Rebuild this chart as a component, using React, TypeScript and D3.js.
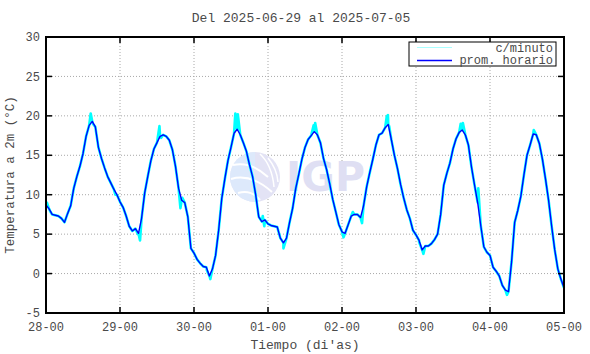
import React from 'react';
import * as d3 from 'd3';

// hourly mean temperature (°C), one value per hour from 28-00 to 05-00
const hourly: number[] = [
  8.7, 8.2, 7.5, 7.4, 7.3, 7.0, 6.5, 7.6, 8.6, 10.8, 12.3, 13.6, 15.2, 17.4, 18.8, 19.3, 18.6, 16.0, 14.6, 13.4, 12.3, 11.5, 10.7, 10.0,
  9.1, 8.4, 7.3, 6.0, 5.4, 5.7, 5.1, 7.0, 10.2, 12.3, 14.3, 15.8, 16.6, 17.4, 17.6, 17.4, 16.9, 15.7, 13.6, 10.8, 9.3, 9.0, 7.2, 3.2,
  2.6, 1.8, 1.3, 0.9, 0.8, -0.3, 0.6, 2.3, 5.5, 9.5, 12.0, 14.3, 16.0, 17.8, 18.3, 17.6, 16.6, 15.5, 13.8, 12.3, 10.0, 7.2, 6.6, 6.8,
  6.3, 6.1, 6.0, 5.9, 4.5, 3.9, 4.5, 6.5, 8.3, 10.8, 12.6, 14.5, 16.0, 17.0, 17.5, 18.0, 17.6, 16.6, 14.6, 13.2, 11.4, 9.4, 7.8, 6.2,
  5.3, 5.1, 6.2, 7.3, 7.5, 7.5, 7.1, 8.6, 11.0, 12.8, 14.5, 16.3, 17.6, 17.8, 18.5, 18.9, 17.0, 15.0, 13.3, 11.3, 9.6, 8.1, 7.0, 5.5,
  4.9, 4.2, 3.0, 3.5, 3.5, 3.8, 4.3, 5.0, 7.5, 11.2, 12.7, 14.0, 15.8, 17.1, 17.9, 18.2, 17.6, 16.3, 13.5, 11.2, 9.0, 6.1, 3.4, 2.7,
  2.3, 0.8, 0.3, -0.3, -1.5, -2.1, -2.3, 1.5, 6.5, 8.0, 9.8, 12.5, 15.0, 16.3, 17.7, 17.6, 16.5, 14.5, 12.0, 9.3, 6.0, 3.0, 0.6, -0.7,
  -1.8,
];

// per-minute readings that stand out from the hourly mean: [hour, °C]
const minuteSpikes: [number, number][] = [
  [0.3, 9.0], [1.5, 7.8], [14.5, 20.3], [15.2, 19.0], [22.5, 10.0], [29.8, 5.0], [30.5, 4.2],
  [36.8, 18.7], [37.3, 17.2], [43.6, 8.3], [44.2, 9.6], [52.2, 0.4], [53.3, -0.7],
  [61.4, 20.3], [61.8, 18.7], [62.2, 20.2], [70.3, 7.3], [70.8, 6.0], [77.0, 3.2],
  [86.8, 18.8], [87.3, 19.1], [94.9, 6.3], [96.5, 4.6], [99.5, 7.8], [102.5, 6.4],
  [110.5, 19.9], [110.9, 20.1], [111.3, 18.7], [121.0, 4.0], [122.4, 2.5],
  [134.5, 19.0], [135.2, 19.1], [140.2, 10.8], [149.5, -2.7], [158.2, 18.2],
];

const xTickLabels = ['28-00', '29-00', '30-00', '01-00', '02-00', '03-00', '04-00', '05-00'];
const yTicks = [-5, 0, 5, 10, 15, 20, 25, 30];

const W = 590;
const H = 354;
const margin = { top: 37, right: 26, bottom: 41, left: 46 };
const font = '"Liberation Mono", "DejaVu Sans Mono", monospace';
const textColor = '#4a4a4a';

export default function App() {
  const iw = W - margin.left - margin.right;
  const ih = H - margin.top - margin.bottom;

  const x = d3.scaleLinear().domain([0, 168]).range([0, iw]);
  const y = d3.scaleLinear().domain([-5, 30]).range([ih, 0]);

  const hourPts: [number, number][] = hourly.map((v, i) => [i, v]);
  const minutePts = [...hourPts, ...minuteSpikes].sort((a, b) => a[0] - b[0]);

  const line = d3.line<[number, number]>()
    .x((d) => x(d[0]))
    .y((d) => y(d[1]));

  const xTicks = xTickLabels.map((_, i) => i * 24);

  return (
    <div style={{ position: 'fixed', left: 0, top: 0 }}>
      <svg width={W} height={H} style={{ display: 'block', background: '#fff' }}>
        <text x={301} y={22} textAnchor="middle" fontFamily={font} fontSize={13} fill={textColor}>
          Del 2025-06-29 al 2025-07-05
        </text>

        <g transform={`translate(${margin.left},${margin.top})`}>
          {/* grid */}
          {yTicks.slice(1, -1).map((t) => (
            <line key={'gy' + t} x1={0} x2={iw} y1={y(t)} y2={y(t)} stroke="#a8a8a8" strokeDasharray="1,2" />
          ))}
          {xTicks.slice(1, -1).map((t) => (
            <line key={'gx' + t} x1={x(t)} x2={x(t)} y1={0} y2={ih} stroke="#a8a8a8" strokeDasharray="1,2" />
          ))}

          {/* IGP watermark */}
          <g>
            <circle cx={209} cy={140} r={25} fill="#e3e3f5" />
            <path d="M 184 140 A 25 25 0 0 1 209 115 L 209 165 A 25 25 0 0 1 184 140 Z" fill="#dde9fb" />
            <path d="M 187 128 Q 205 124 222 140" stroke="#fff" strokeWidth={2} fill="none" />
            <path d="M 185 142 Q 205 136 226 155" stroke="#fff" strokeWidth={2} fill="none" />
            <path d="M 192 156 Q 205 152 214 163" stroke="#fff" strokeWidth={2} fill="none" />
            <path d="M 214 117 Q 226 128 228 150" stroke="#fff" strokeWidth={1.5} fill="none" />
            <path d="M 222 121 Q 231 132 232 145" stroke="#fff" strokeWidth={1.5} fill="none" />
            <text x={240} y={154} fontFamily="'DejaVu Sans', sans-serif" fontWeight="bold" fontSize={41} fill="#dfdff3">
              IGP
            </text>
          </g>

          {/* data */}
          <path d={line(minutePts) ?? ''} fill="none" stroke="#00ffff" strokeWidth={2.6} strokeLinejoin="round" />
          <path d={line(hourPts) ?? ''} fill="none" stroke="#0000ff" strokeWidth={1.4} strokeLinejoin="round" />

          {/* frame */}
          <rect x={0} y={0} width={iw} height={ih} fill="none" stroke="#000" strokeWidth={2} />

          {/* ticks */}
          {yTicks.map((t) => (
            <g key={'ty' + t}>
              <line x1={0} x2={6} y1={y(t)} y2={y(t)} stroke="#000" strokeWidth={1.5} />
              <line x1={iw - 6} x2={iw} y1={y(t)} y2={y(t)} stroke="#000" strokeWidth={1.5} />
              <text x={-6} y={y(t)} dy="0.35em" textAnchor="end" fontFamily={font} fontSize={12} fill={textColor}>
                {t}
              </text>
            </g>
          ))}
          {xTicks.map((t, i) => (
            <g key={'tx' + t}>
              <line x1={x(t)} x2={x(t)} y1={ih} y2={ih - 6} stroke="#000" strokeWidth={1.5} />
              <line x1={x(t)} x2={x(t)} y1={0} y2={6} stroke="#000" strokeWidth={1.5} />
              <text x={x(t)} y={ih + 18} textAnchor="middle" fontFamily={font} fontSize={12} fill={textColor}>
                {xTickLabels[i]}
              </text>
            </g>
          ))}

          {/* legend */}
          <rect x={363} y={5} width={147} height={24} fill="#fff" stroke="#000" strokeWidth={1} />
          <line x1={371} x2={406} y1={10.5} y2={10.5} stroke="#aaffff" strokeWidth={1} />
          <line x1={371} x2={406} y1={23.5} y2={23.5} stroke="#0000ff" strokeWidth={1.5} />
          <text x={507} y={14.5} textAnchor="end" fontFamily={font} fontSize={12} fill={textColor}>c/minuto</text>
          <text x={507} y={27} textAnchor="end" fontFamily={font} fontSize={12} fill={textColor}>prom. horario</text>
        </g>

        <text x={305} y={349} textAnchor="middle" fontFamily={font} fontSize={13} fill={textColor}>
          Tiempo (di'as)
        </text>
        <text
          transform={`translate(14,${margin.top + ih / 2}) rotate(-90)`}
          textAnchor="middle"
          fontFamily={font}
          fontSize={12.5}
          fill={textColor}
        >
          Temperatura a 2m (°C)
        </text>
      </svg>
    </div>
  );
}
